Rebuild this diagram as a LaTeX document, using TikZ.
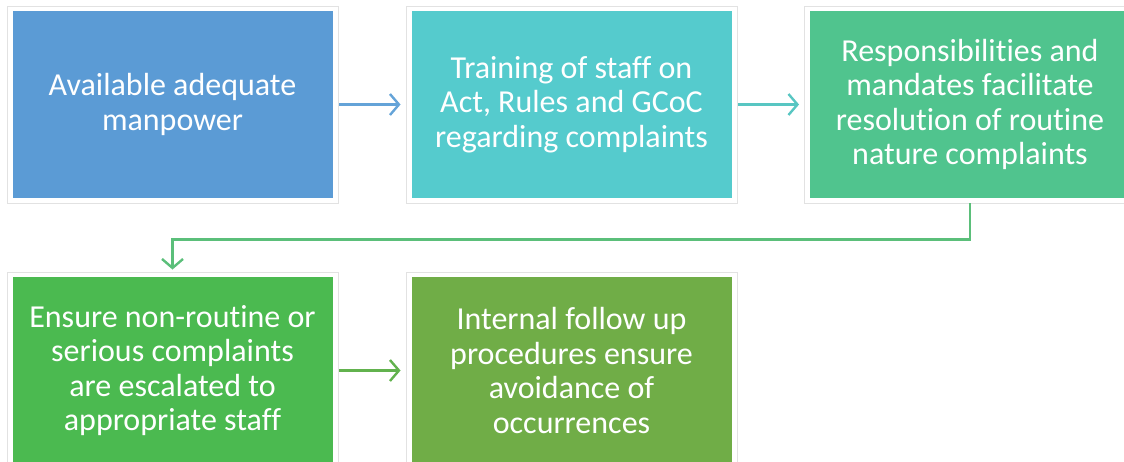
\documentclass[tikz,border=0pt]{standalone}
\usepackage{fontspec}
\setmainfont{Carlito}[Ligatures=NoCommon]
\usetikzlibrary{arrows.meta}
\definecolor{cA}{HTML}{5B9BD5}
\definecolor{cB}{HTML}{55CBCD}
\definecolor{cC}{HTML}{50C48E}
\definecolor{cD}{HTML}{4BBA50}
\definecolor{cE}{HTML}{70AD47}
\definecolor{aA}{HTML}{64A3D8}
\definecolor{aB}{HTML}{58C6C2}
\definecolor{aC}{HTML}{5BBF7A}
\definecolor{aD}{HTML}{62B24E}
\definecolor{frm}{HTML}{E2E2E2}
\begin{document}
\begin{tikzpicture}[x=1pt,y=-1pt,
  frame/.style={draw=frm,fill=white,line width=0.9pt,minimum width=331pt,minimum height=197pt,inner sep=0pt},
  box/.style={fill=#1,minimum width=320pt,minimum height=187pt,inner sep=0pt,text=white,align=center,
    font=\fontsize{32}{34.5}\selectfont},
  link/.style={draw=#1,line width=2.4pt,-{Straight Barb[length=9pt,width=21pt,line width=2.4pt]}}
]
\useasboundingbox (0,0) rectangle (1124,461);
\node[frame] (f1) at (172.5,104.5) {};
\node[frame] (f2) at (571.5,104.5) {};
\node[frame] (f3) at (970,104.5) {};
\node[frame] (f4) at (172.5,370.5) {};
\node[frame] (f5) at (571.5,370.5) {};
\node[box=cA] (b1) at (172.5,104.5) {Available adequate\\manpower};
\node[box=cB] (b2) at (571.5,104.5) {Training of staff on\\Act, Rules and GCoC\\regarding complaints};
\node[box=cC] (b3) at (970,104.5) {Responsibilities and\\mandates facilitate\\resolution of routine\\nature complaints};
\node[box=cD] (b4) at (172.5,370.5) {Ensure non-routine or\\serious complaints\\are escalated to\\appropriate staff};
\node[box=cE] (b5) at (571.5,370.5) {Internal follow up\\procedures ensure\\avoidance of\\occurrences};
\draw[link=aA,shorten <=1pt,shorten >=5pt] (f1.east) -- (f2.west);
\draw[link=aB,shorten <=1pt,shorten >=5pt] (f2.east) -- (f3.west);
\draw[link=aD,shorten <=1pt,shorten >=5pt] (f4.east) -- (f5.west);
\draw[link=aC,shorten >=2pt] (f3.south) -- ([yshift=-36pt]f3.south) -| (f4.north);
\end{tikzpicture}
\end{document}
